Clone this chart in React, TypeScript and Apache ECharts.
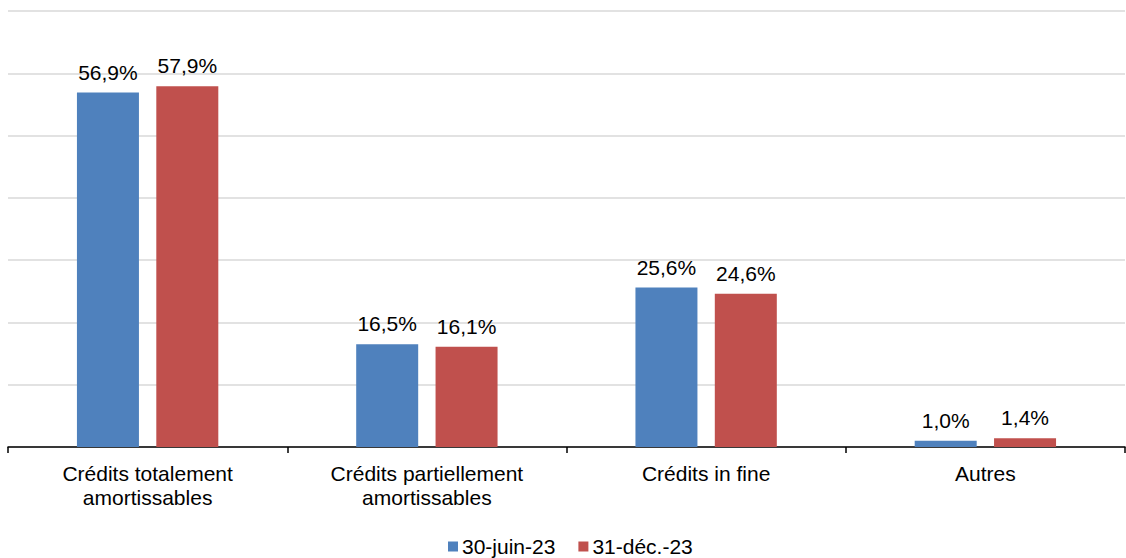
import React, { useEffect, useRef } from "react";
import * as echarts from "echarts";

const categories = ["Crédits totalement\namortissables", "Crédits partiellement\namortissables", "Crédits in fine", "Autres"];
const seriesNames = ["30-juin-23", "31-déc.-23"];
const juin23 = [56.9, 16.5, 25.6, 1.0];
const dec23 = [57.9, 16.1, 24.6, 1.4];
const colors = ["#4F81BD", "#C0504D"];

const FONT = "'Liberation Sans', Arial, sans-serif";

export default function App() {
  const ref = useRef<HTMLDivElement>(null);
  useEffect(() => {
    if (!ref.current) return;
    const chart = echarts.init(ref.current, undefined, { renderer: "svg" });
    const label = {
      show: true,
      position: "top",
      distance: 10,
      fontFamily: FONT,
      fontSize: 21,
      color: "#000",
      formatter: (p: any) => p.value.toFixed(1).replace(".", ",") + "%",
    };
    chart.setOption({
      animation: false,
      textStyle: { fontFamily: FONT },
      grid: { left: 8, right: 1, top: 11, bottom: 111, containLabel: false },
      legend: {
        top: 536,
        left: 448,
        padding: 0,
        itemWidth: 10,
        itemHeight: 10,
        itemGap: 23,
        icon: "rect",
        textStyle: { fontFamily: FONT, fontSize: 21, color: "#000", padding: [0, 0, 0, -1] },
        data: seriesNames,
      },
      xAxis: {
        type: "category",
        data: categories,
        axisLine: { lineStyle: { color: "#000", width: 1.5 } },
        axisTick: { show: true, length: 6, interval: 0, lineStyle: { color: "#000", width: 1.5 } },
        axisLabel: { interval: 0, margin: 14, fontFamily: FONT, fontSize: 21, color: "#000", lineHeight: 24 },
      },
      yAxis: {
        type: "value",
        min: 0,
        max: 70,
        interval: 10,
        axisLabel: { show: false },
        axisLine: { show: false },
        axisTick: { show: false },
        splitLine: { lineStyle: { color: "#D9D9D9", width: 1.5 } },
      },
      series: [
        { name: seriesNames[0], type: "bar", data: juin23, barWidth: 62, barGap: "28%", itemStyle: { color: colors[0] }, label },
        { name: seriesNames[1], type: "bar", data: dec23, barWidth: 62, barGap: "28%", itemStyle: { color: colors[1] }, label },
      ],
    });
    return () => chart.dispose();
  }, []);
  return <div ref={ref} style={{ width: 1126, height: 558, position: "absolute", left: 0, top: 0 }} />;
}
